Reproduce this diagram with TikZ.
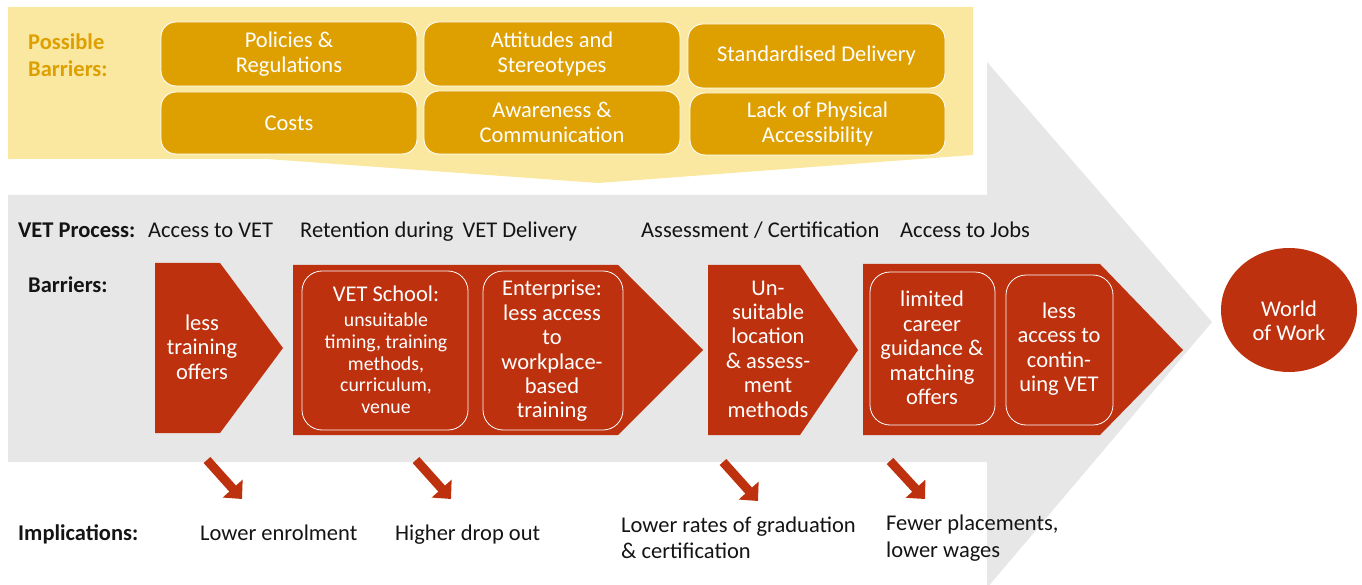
\documentclass[tikz,border=0pt]{standalone}
\usepackage{fontspec}
\setmainfont{Carlito}
\usetikzlibrary{arrows.meta}
\definecolor{vetred}{RGB}{189,49,14}
\definecolor{paleyellow}{RGB}{250,232,160}
\definecolor{gold}{RGB}{222,160,0}
\definecolor{flowgrey}{RGB}{231,231,231}
\definecolor{inktext}{RGB}{20,20,20}

\begin{document}
\begin{tikzpicture}[x=1pt,y=-1pt,
  goldbox/.style={draw=white, line width=0.9pt, fill=gold, rounded corners=15pt,
    text=white, font=\fontsize{22.5}{25}\selectfont, align=center, inner sep=0pt},
  redshape/.style={fill=vetred},
  innerbox/.style={draw=white, line width=0.8pt, rounded corners=20pt, inner sep=0pt},
  whitetext/.style={text=white, align=center, inner sep=0pt, font=\fontsize{22.5}{24.4}\selectfont},
  smalltext/.style={text=white, align=center, inner sep=0pt, font=\fontsize{19.8}{21.7}\selectfont},
  label/.style={anchor=base west, inner sep=0pt, text=inktext, font=\fontsize{22.5}{26}\selectfont},
  boldlabel/.style={label, font=\fontsize{22.5}{26}\selectfont\bfseries},
  goldlabel/.style={anchor=base west, inner sep=0pt, text=gold, align=left,
    font=\fontsize{22.5}{27}\selectfont\bfseries},
  implarrow/.style={draw=vetred, line width=9pt, -{Triangle[width=26pt,length=14pt]}}
]
\useasboundingbox (0,0) rectangle (1362,585);
\clip (0,0) rectangle (1362,585);

% large grey process arrow
\path[fill=flowgrey] (8,195) -- (987,195) -- (987,62) -- (1212,322) -- (987,588)
  -- (987,462) -- (8,462) -- cycle;

% pale yellow panel of possible barriers
\path[fill=paleyellow] (8,7) -- (973,7) -- (973,155) -- (598,183) -- (267,159)
  -- (8,159) -- cycle;

\node[goldlabel] (possible) at (28,50) {Possible};
\node[goldlabel] (barrierstop) at (28,77) {Barriers:};

\node[goldbox, minimum width=256pt, minimum height=64pt] (policies) at (289,54) {Policies \&\\Regulations};
\node[goldbox, minimum width=256pt, minimum height=64pt] (attitudes) at (552,54) {Attitudes and\\Stereotypes};
\node[goldbox, minimum width=257pt, minimum height=64pt] (standard) at (816.5,56) {Standardised Delivery};
\node[goldbox, minimum width=256pt, minimum height=62pt] (costs) at (289,123) {Costs};
\node[goldbox, minimum width=256pt, minimum height=63pt] (awareness) at (552,122.5) {Awareness \&\\Communication};
\node[goldbox, minimum width=255pt, minimum height=62pt] (physical) at (817.5,124) {Lack of Physical\\Accessibility};

% process stage headings
\node[boldlabel] (process) at (18,238) {VET Process:};
\node[label] (accessvet) at (148,238) {Access to VET};
\node[label] (retention) at (300,238) {Retention during\hspace{4pt} VET Delivery};
\node[label] (assess) at (641,238) {Assessment / Certification};
\node[label] (jobs) at (900,238) {Access to Jobs};
\node[boldlabel] (barriers) at (28,292) {Barriers:};

% red barrier chevrons
\path[redshape] (155,263) -- (220,263) -- (283,348) -- (220,433) -- (155,433) -- cycle;
\path[redshape] (293,265) -- (618,265) -- (703,350) -- (618,435) -- (293,435) -- cycle;
\path[redshape] (708,265) -- (800,265) -- (858,350) -- (800,435) -- (708,435) -- cycle;
\path[redshape] (863,264) -- (1100,264) -- (1183,350) -- (1100,435) -- (863,435) -- cycle;

\node[whitetext] (lesstraining) at (202,347) {less\\training\\offers};

\node[innerbox, minimum width=166pt, minimum height=159pt] (schoolbox) at (385,350.5) {};
\node[smalltext] (school) at (386,350) {{\fontsize{22.5}{24}\selectfont VET School:}\\[3pt]unsuitable\\timing, training\\methods,\\curriculum,\\venue};

\node[innerbox, minimum width=140pt, minimum height=159pt] (enterprisebox) at (553,350.5) {};
\node[whitetext] (enterprise) at (552,351) {Enterprise:\\less access\\to\\workplace-\\based\\training};

\node[whitetext] (location) at (768,349) {Un-\\suitable\\location\\\& assess-\\ment\\methods};

\node[innerbox, minimum width=125pt, minimum height=153pt] (careerbox) at (932.5,348.5) {};
\node[whitetext] (career) at (932,348) {limited\\career\\guidance \&\\matching\\offers};

\node[innerbox, minimum width=107pt, minimum height=150pt] (continuingbox) at (1059.5,350) {};
\node[whitetext] (continuing) at (1059,349) {less\\access to\\contin-\\uing VET};

% destination
\path[fill=vetred] (1289,310) ellipse [x radius=68, y radius=62];
\node[whitetext] (world) at (1289,321) {World\\of Work};

% implication arrows
\coordinate (a1s) at (207,460); \coordinate (a1e) at (242,499);
\coordinate (a2s) at (416,460); \coordinate (a2e) at (451,499);
\coordinate (a3s) at (723,462); \coordinate (a3e) at (758,501);
\coordinate (a4s) at (890,461); \coordinate (a4e) at (925,499);
\draw[implarrow] (a1s) -- (a1e);
\draw[implarrow] (a2s) -- (a2e);
\draw[implarrow] (a3s) -- (a3e);
\draw[implarrow] (a4s) -- (a4e);

% implications
\node[boldlabel] (implications) at (18,540) {Implications:};
\node[label] (enrol) at (200,540) {Lower enrolment};
\node[label] (dropout) at (395,540) {Higher drop out};
\node[label] (graduation) at (621,532) {Lower rates of graduation};
\node[label] (certif) at (621,558) {\& certification};
\node[label] (placements) at (886,530) {Fewer placements,};
\node[label] (wages) at (886,557) {lower wages};
\end{tikzpicture}
\end{document}
